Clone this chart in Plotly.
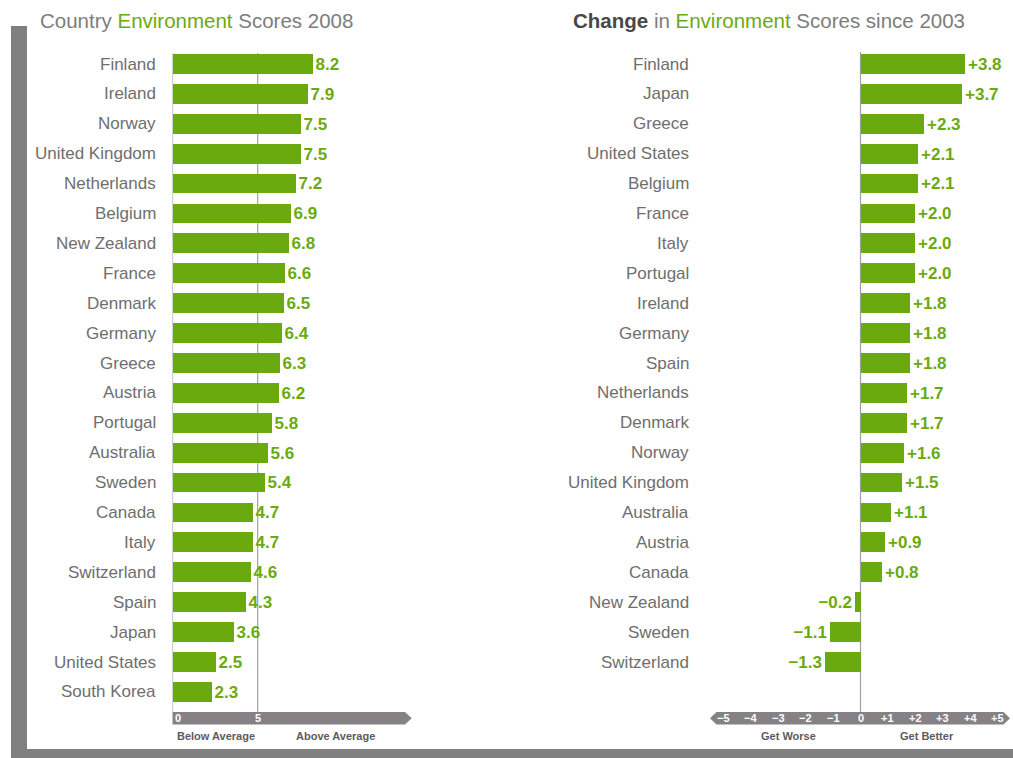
import plotly.graph_objects as go

# ---- data ----
score_countries = ["Finland", "Ireland", "Norway", "United Kingdom", "Netherlands", "Belgium",
                   "New Zealand", "France", "Denmark", "Germany", "Greece", "Austria", "Portugal",
                   "Australia", "Sweden", "Canada", "Italy", "Switzerland", "Spain", "Japan",
                   "United States", "South Korea"]
scores_2008 = [8.2, 7.9, 7.5, 7.5, 7.2, 6.9, 6.8, 6.6, 6.5, 6.4, 6.3, 6.2, 5.8,
               5.6, 5.4, 4.7, 4.7, 4.6, 4.3, 3.6, 2.5, 2.3]

change_countries = ["Finland", "Japan", "Greece", "United States", "Belgium", "France", "Italy",
                    "Portugal", "Ireland", "Germany", "Spain", "Netherlands", "Denmark", "Norway",
                    "United Kingdom", "Australia", "Austria", "Canada", "New Zealand", "Sweden",
                    "Switzerland"]
changes_since_2003 = [3.8, 3.7, 2.3, 2.1, 2.1, 2.0, 2.0, 2.0, 1.8, 1.8, 1.8, 1.7, 1.7, 1.6,
                      1.5, 1.1, 0.9, 0.8, -0.2, -1.1, -1.3]

score_ticks = [0, 5]
change_ticks = [-5, -4, -3, -2, -1, 0, 1, 2, 3, 4, 5]

# ---- styling ----
W, H = 1013, 758
GREEN = "#6BAA0E"
FRAME = "#808080"
BAND = "#858185"
LABEL = "#6E6E6E"
FONT = "Liberation Sans, Arial, sans-serif"


def px(x):
    return x / W


def py(y):
    return 1 - y / H


# left axis: 0 at 172.5px, 17.04 px per unit
L0, LU = 172.5, 17.04
L_LEFT, L_RIGHT = 172.5, 420
# right axis: 0 at 860.5px, 27.4 px per unit
R0, RU = 860.5, 27.4
R_LEFT, R_RIGHT = 705, 1012

ROW0, ROWH = 64, 29.9
n_rows = len(score_countries)
y_dom = [py(ROW0 + (n_rows - 0.5) * ROWH), py(ROW0 - 0.5 * ROWH)]


def fmt_change(v):
    return f"{v:+.1f}".replace("-", "\u2212")


value_font = dict(family=FONT, size=17, color=GREEN, weight="bold")

fig = go.Figure()

fig.add_trace(go.Bar(
    x=scores_2008, y=list(range(len(scores_2008))), orientation="h",
    marker=dict(color=GREEN, line=dict(width=0)), width=0.66,
    text=[f"{v:.1f}" for v in scores_2008], textposition="outside",
    outsidetextfont=value_font,
    cliponaxis=False, hoverinfo="skip", xaxis="x", yaxis="y",
))

fig.add_trace(go.Bar(
    x=changes_since_2003, y=list(range(len(changes_since_2003))), orientation="h",
    marker=dict(color=GREEN, line=dict(width=0)), width=0.66,
    text=[fmt_change(v) for v in changes_since_2003], textposition="outside",
    outsidetextfont=value_font,
    cliponaxis=False, hoverinfo="skip", xaxis="x2", yaxis="y2",
))

hidden = dict(showgrid=False, zeroline=False, showticklabels=False, showline=False, ticks="")

fig.update_layout(
    width=W, height=H,
    margin=dict(l=0, r=0, t=0, b=0),
    paper_bgcolor="white", plot_bgcolor="rgba(0,0,0,0)",
    showlegend=False, bargap=0,
    font=dict(family=FONT, color=LABEL),
    xaxis=dict(domain=[px(L_LEFT), px(L_RIGHT)],
               range=[(L_LEFT - L0) / LU, (L_RIGHT - L0) / LU], **hidden),
    yaxis=dict(domain=y_dom, range=[n_rows - 0.5, -0.5], anchor="x", **hidden),
    xaxis2=dict(domain=[px(R_LEFT), px(R_RIGHT)],
                range=[(R_LEFT - R0) / RU, (R_RIGHT - R0) / RU], anchor="y2", **hidden),
    yaxis2=dict(domain=y_dom, range=[n_rows - 0.5, -0.5], anchor="x2", **hidden),
)

shapes = []
# outer frame: left column and bottom strip
shapes.append(dict(type="rect", xref="paper", yref="paper", x0=px(11), x1=px(27),
                   y0=py(758), y1=py(26), fillcolor=FRAME, line=dict(width=0), layer="below"))
shapes.append(dict(type="rect", xref="paper", yref="paper", x0=px(11), x1=px(1013),
                   y0=py(758), y1=py(749), fillcolor=FRAME, line=dict(width=0), layer="below"))

# vertical reference lines
for xv in [0, 5]:
    shapes.append(dict(type="line", xref="x", yref="paper", x0=xv, x1=xv,
                       y0=py(712), y1=py(53), line=dict(color="#A0A0A0", width=1.2),
                       layer="below"))
shapes.append(dict(type="line", xref="x2", yref="paper", x0=0, x1=0,
                   y0=py(712), y1=py(52), line=dict(color="#A0A0A0", width=1.2), layer="below"))

# axis bands with arrow heads
b_top, b_bot, b_mid = py(712), py(724.5), py(718.2)
lx_body, lx_tip = (405 - L0) / LU, (411.7 - L0) / LU
lx_start = (171.5 - L0) / LU
shapes.append(dict(type="path", xref="x", yref="paper",
                   path=f"M {lx_start},{b_top} L {lx_body},{b_top} L {lx_tip},{b_mid} "
                        f"L {lx_body},{b_bot} L {lx_start},{b_bot} Z",
                   fillcolor=BAND, line=dict(width=0)))
rl_tip, rl_body = (710 - R0) / RU, (716.5 - R0) / RU
rr_body, rr_tip = (1003.5 - R0) / RU, (1010 - R0) / RU
shapes.append(dict(type="path", xref="x2", yref="paper",
                   path=f"M {rl_tip},{b_mid} L {rl_body},{b_top} L {rr_body},{b_top} "
                        f"L {rr_tip},{b_mid} L {rr_body},{b_bot} L {rl_body},{b_bot} Z",
                   fillcolor=BAND, line=dict(width=0)))
fig.update_layout(shapes=shapes)

ann = []
# category labels
for i, name in enumerate(score_countries):
    ann.append(dict(text=name, xref="paper", yref="y", x=px(158), y=i, xanchor="right",
                    yanchor="middle", showarrow=False,
                    font=dict(family=FONT, size=17, color=LABEL)))
for i, name in enumerate(change_countries):
    ann.append(dict(text=name, xref="paper", yref="y2", x=px(691), y=i, xanchor="right",
                    yanchor="middle", showarrow=False,
                    font=dict(family=FONT, size=17, color=LABEL)))

# band tick labels
for t in score_ticks:
    ann.append(dict(text=f"<b>{t}</b>", xref="x", yref="paper", x=t + (0.3 if t == 0 else 0),
                    y=b_mid, xanchor="center", yanchor="middle", showarrow=False,
                    font=dict(family=FONT, size=11, color="white")))
for t in change_ticks:
    lab = "0" if t == 0 else (f"+{t}" if t > 0 else f"\u2212{abs(t)}")
    ann.append(dict(text=f"<b>{lab}</b>", xref="x2", yref="paper", x=t, y=b_mid,
                    xanchor="center", yanchor="middle", showarrow=False,
                    font=dict(family=FONT, size=11, color="white")))

# band captions
for txt, xp in [("Below Average", 216), ("Above Average", 335),
                ("Get Worse", 788), ("Get Better", 927)]:
    ann.append(dict(text=f"<b>{txt}</b>", xref="paper", yref="paper", x=px(xp), y=py(736),
                    xanchor="center", yanchor="middle", showarrow=False,
                    font=dict(family=FONT, size=11, color="#5E5A5E")))

# titles
GRAY_T = "#7D7D7D"
ann.append(dict(
    text=f"<span style='color:{GRAY_T}'>Country </span><span style='color:{GREEN}'>Environment</span>"
         f"<span style='color:{GRAY_T}'> Scores 2008</span>",
    xref="paper", yref="paper", x=px(38), y=py(20), xanchor="left", yanchor="middle",
    showarrow=False, font=dict(family=FONT, size=20.5)))
ann.append(dict(
    text=f"<b><span style='color:#484848'>Change</span></b><span style='color:{GRAY_T}'> in </span>"
         f"<span style='color:{GREEN}'>Environment</span>"
         f"<span style='color:{GRAY_T}'> Scores since 2003</span>",
    xref="paper", yref="paper", x=px(571), y=py(20), xanchor="left", yanchor="middle",
    showarrow=False, font=dict(family=FONT, size=20.5)))

fig.update_layout(annotations=ann)

fig.write_html("out.html")
